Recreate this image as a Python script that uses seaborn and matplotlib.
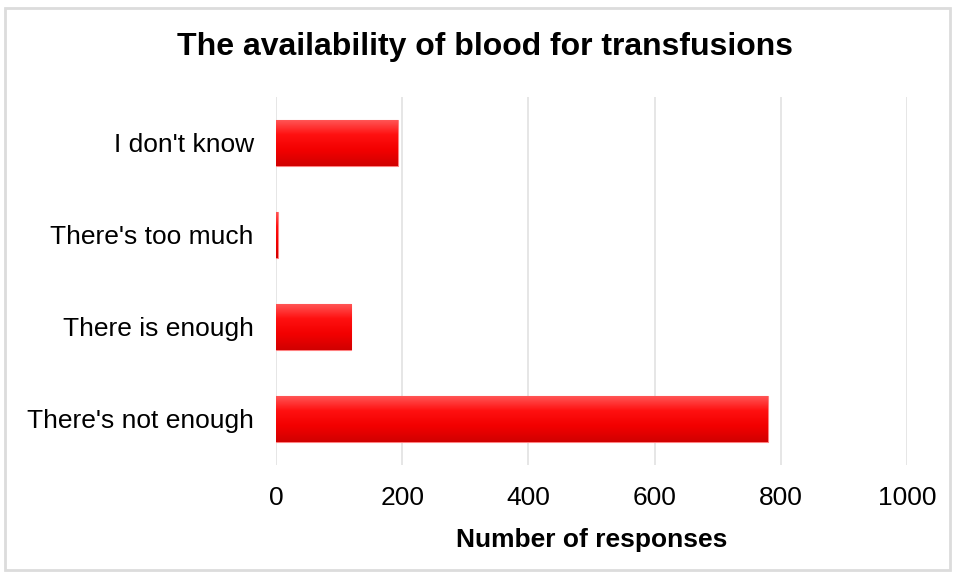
import numpy as np
import pandas as pd
import seaborn as sns
import matplotlib.pyplot as plt
from matplotlib.colors import LinearSegmentedColormap
from matplotlib.patches import Rectangle

# data
answers = ["I don't know", "There's too much", "There is enough", "There's not enough"]
responses = [193, 3, 119, 779]
xticks = [0, 200, 400, 600, 800, 1000]

df = pd.DataFrame({"answer": answers, "responses": responses})

sns.set_style("white")
plt.rcParams['font.family'] = ['Liberation Sans', 'DejaVu Sans']
plt.rcParams['text.color'] = 'black'
plt.rcParams['xtick.color'] = 'black'
plt.rcParams['ytick.color'] = 'black'
plt.rcParams['axes.labelcolor'] = 'black'

fig = plt.figure(figsize=(9.56, 5.78), dpi=100)
ax = fig.add_axes([0.2887, 0.1955, 0.6600, 0.6367])

sns.barplot(data=df, x="responses", y="answer", orient="h", color="red",
            width=0.5, ax=ax, zorder=3, edgecolor="#ff8080", linewidth=0.8)

# vertical red gradient on each bar (light top, dark bottom)
grad_cmap = LinearSegmentedColormap.from_list(
    "bar_red", ["#ff5a5a", "#ff1010", "#f20000", "#d00000"])
grad = np.linspace(0, 1, 256).reshape(-1, 1)
for bar in ax.patches:
    x0, y0 = bar.get_x(), bar.get_y()
    w, h = bar.get_width(), bar.get_height()
    # y axis is inverted, so the top of the bar is y0
    im = ax.imshow(grad, cmap=grad_cmap, aspect="auto", zorder=4,
                   extent=[x0, x0 + w, y0 + h, y0], origin="upper")
    im.set_clip_path(bar)

ax.set_xlim(0, 1000)
ax.set_ylim(3.5, -0.5)
ax.set_xticks(xticks)
ax.set_xticklabels([str(t) for t in xticks], fontsize=19)
ax.tick_params(axis="y", labelsize=19, length=0, pad=16)
ax.tick_params(axis="x", length=0, pad=15)
ax.grid(axis="x", color="#e2e2e2", linewidth=1.2, zorder=0)
ax.set_axisbelow(True)
for sp in ax.spines.values():
    sp.set_visible(False)

ax.set_ylabel("")
ax.set_xlabel("Number of responses", fontsize=19, fontweight="bold", labelpad=13)

fig.suptitle("The availability of blood for transfusions", fontsize=23,
             fontweight="bold", x=0.507, y=0.944)

# light frame around the whole chart
fig.patches.append(Rectangle((5 / 956, 8 / 578), 945 / 956, 562 / 578,
                             transform=fig.transFigure, fill=False,
                             edgecolor="#dcdcdc", linewidth=2))

fig.savefig("out.png", dpi=100, facecolor="white")
